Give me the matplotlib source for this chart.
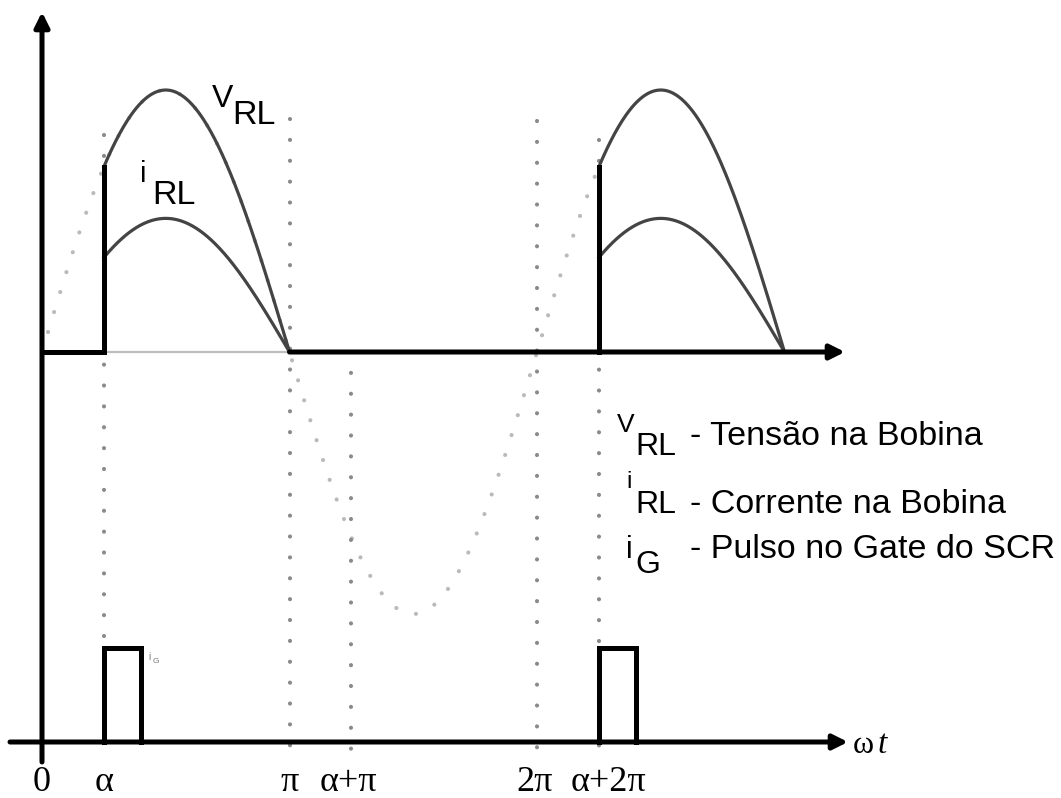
import numpy as np
import matplotlib.pyplot as plt

plt.rcParams['font.family'] = ['Liberation Sans', 'DejaVu Sans']

# waveform data (x in radians, y relative to the voltage peak)
alpha = np.pi / 4
v_peak = 1.0
i_peak = 0.51
gate_height = 0.36
gate_width = 0.15 * np.pi
cycle_starts = [0, 2 * np.pi]

tick_pos = [0, alpha, np.pi, alpha + np.pi, 2 * np.pi, alpha + 2 * np.pi]
tick_text = ['0', 'α', 'π', 'α+π', '2π', 'α+2π']
tick_shift = [0, 0, 0, -3, -2, 10]   # small pixel nudges, as in the drawing
guide_x = [alpha, np.pi, alpha + np.pi, 2 * np.pi, alpha + 2 * np.pi]
guide_top = [0.83, 0.89, 0.0, 0.88, 0.81]

legend_main = ['V', 'i', 'i']
legend_sub = ['RL', 'RL', 'G']
legend_desc = ['- Tensão na Bobina', '- Corrente na Bobina', '- Pulso no Gate do SCR']


# pixel -> data helpers (picture is 1061 x 798)
def px(x):
    return (x - 42) / 247.5 * np.pi


def py(y):
    return (352 - y) / 262


fig = plt.figure(figsize=(10.61, 7.98), dpi=100)
ax = fig.add_axes([0, 0, 1, 1])
ax.set_xlim(px(0), px(1061))
ax.set_ylim(py(798), py(0))
ax.axis('off')

y_low = py(742)
dots = dict(ls=(0, (0.01, 5)), dash_capstyle='round', lw=3)

# dotted source sine
t = np.linspace(0, alpha + 2 * np.pi, 600)
ax.plot(t, v_peak * np.sin(t), color='#bababa', **dots)

# vertical guides
for x, top in zip(guide_x, guide_top):
    ax.plot([x, x], [top, py(754)], color='#8a8a8a', **dots)

# upper baseline
ax.plot([0, alpha], [0, 0], color='k', lw=3.6, solid_capstyle='butt')
ax.plot([alpha, np.pi], [0, 0], color='#bdbdbd', lw=1.6)
arrow = dict(arrowstyle='-|>', lw=3.6, color='k', mutation_scale=22, shrinkA=0, shrinkB=0)
ax.annotate('', xy=(px(845), 0), xytext=(np.pi, 0), arrowprops=arrow)

# conducting intervals
for c in cycle_starts:
    tt = np.linspace(c + alpha, c + np.pi, 200)
    ax.plot(tt, v_peak * np.sin(tt), color='#444444', lw=2.3)
    ax.plot(tt, i_peak * np.sin(tt), color='#444444', lw=2.3)
    ax.plot([c + alpha, c + alpha], [0, v_peak * np.sin(alpha)], color='k', lw=3.6)
    # gate pulse
    g0 = c + alpha
    ax.plot([g0, g0, g0 + gate_width, g0 + gate_width],
            [y_low, y_low + gate_height, y_low + gate_height, y_low],
            color='k', lw=3.6, solid_joinstyle='miter')

# axes with arrows
ax.annotate('', xy=(0, py(12)), xytext=(0, py(762)), arrowprops=arrow)
ax.annotate('', xy=(px(848), y_low), xytext=(px(10), y_low), arrowprops=arrow)

# tick labels
serif = ['Liberation Serif', 'DejaVu Serif']
for x, s, dx in zip(tick_pos, tick_text, tick_shift):
    ax.text(x + px(42 + dx) - px(42), py(791), s, ha='center', va='baseline',
            fontsize=26, family=serif)
ax.text(px(853), py(753), 'ω', ha='left', va='baseline', fontsize=23, family=serif)
ax.text(px(878), py(753), 't', ha='left', va='baseline', fontsize=24, family=serif,
        style='italic')

# curve labels
ax.text(px(212), py(107), 'V', fontsize=23, va='baseline')
ax.text(px(232), py(124), 'RL', fontsize=24.5, va='baseline')
ax.text(px(140), py(182), 'i', fontsize=21, va='baseline')
ax.text(px(152), py(204), 'RL', fontsize=24.5, va='baseline')
ax.text(px(148), py(660), 'i', fontsize=7, va='baseline', color='#777777')
ax.text(px(153), py(663), 'G', fontsize=6, va='baseline', color='#777777')

# legend block
main_x = [617, 626, 626]
main_y = [432, 488, 558]
main_size = [19, 17, 22]
sub_y = [455, 513, 573]
desc_y = [445, 513, 558]
for k in range(3):
    ax.text(px(main_x[k]), py(main_y[k]), legend_main[k],
            fontsize=main_size[k], va='baseline')
    ax.text(px(635), py(sub_y[k]), legend_sub[k], fontsize=23, va='baseline')
    ax.text(px(690), py(desc_y[k]), legend_desc[k], fontsize=24.5, va='baseline')

fig.savefig('out.png', dpi=100)
